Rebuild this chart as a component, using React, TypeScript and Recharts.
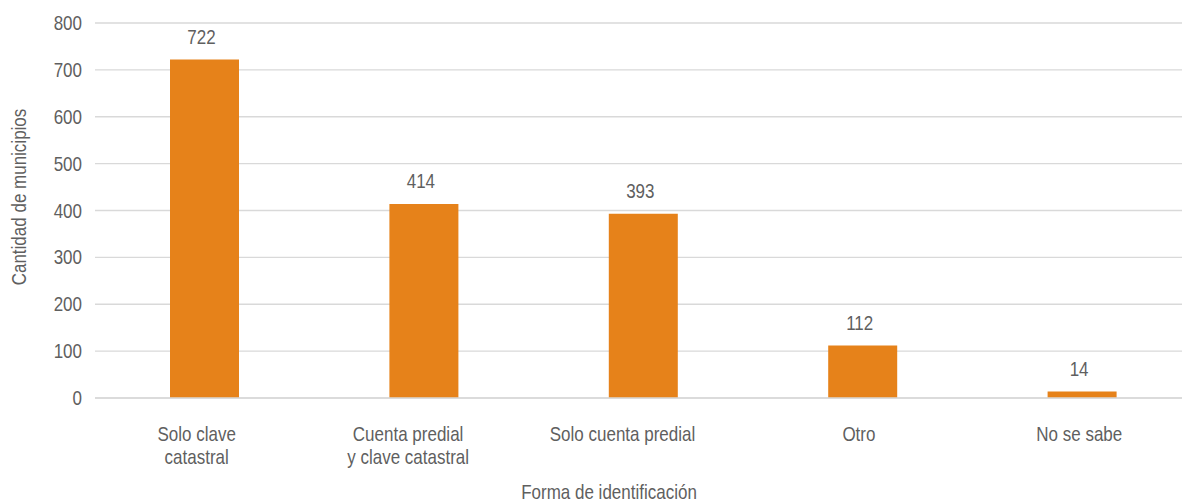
import React from 'react';
import { BarChart, Bar, XAxis, YAxis, CartesianGrid, LabelList, Label } from 'recharts';

// Forma de identificación de los predios
const categories = ['Solo clave\ncatastral', 'Cuenta predial\ny clave catastral', 'Solo cuenta predial', 'Otro', 'No se sabe'];
const municipios = [722, 414, 393, 112, 14];
const yTicks = [0, 100, 200, 300, 400, 500, 600, 700, 800];

const data = categories.map((name, i) => ({ name, value: municipios[i] }));

const textColor = '#5f5f5f';
const font = '"Liberation Sans", Arial, sans-serif';
const fontSize = 17;
const stretch = 1.2; // the original uses a narrow face, so stretch Arial-width glyphs vertically

// the original's category labels sit a little left of their bars
const labelNudge = [-8, -16, -21, -4, -3];

// text drawn at (x, y) baseline, taller than it is wide
const Tall = ({ x, y, anchor = 'middle', rotate = 0, children }: any) => (
  <g transform={`translate(${x} ${y}) rotate(${rotate}) scale(1 ${stretch})`}>
    <text x={0} y={0} textAnchor={anchor} fill={textColor} fontSize={fontSize} fontFamily={font}>
      {children}
    </text>
  </g>
);

const CategoryTick = (props: any) => {
  const { x, y, payload, index } = props;
  const lines = String(payload.value).split('\n');
  const cx = x + (labelNudge[index] ?? 0);
  return (
    <Tall x={cx} y={y + 35}>
      {lines.map((line, i) => (
        <tspan key={i} x={0} dy={i === 0 ? 0 : 23.5 / stretch}>{line}</tspan>
      ))}
    </Tall>
  );
};

const ValueTick = (props: any) => {
  const { x, y, payload } = props;
  return <Tall x={x} y={y + 7} anchor="end">{payload.value}</Tall>;
};

const BarValue = (props: any) => {
  const { x, y, width, value } = props;
  return <Tall x={x + width / 2 - 3} y={y - 15.5}>{value}</Tall>;
};

const App: React.FC = () => {
  return (
    <div style={{ position: 'fixed', left: 0, top: 0, width: 1182, height: 502, overflow: 'hidden', background: '#fff' }}>
      <BarChart width={1200} height={502} data={data} margin={{ top: 23, right: 8, left: 40, bottom: 44 }}>
        <CartesianGrid vertical={false} stroke="#d9d9d9" strokeWidth={1.3} />
        <XAxis
          dataKey="name"
          tick={<CategoryTick />}
          tickLine={false}
          axisLine={{ stroke: '#d9d9d9', strokeWidth: 1.3 }}
          height={60}
          interval={0}
        >
          <Label content={() => <Tall x={609} y={499}>Forma de identificación</Tall>} />
        </XAxis>
        <YAxis
          domain={[0, 800]}
          ticks={yTicks}
          tickLine={false}
          axisLine={false}
          tickSize={0}
          tickMargin={13}
          width={55}
          tick={<ValueTick />}
        >
          <Label content={() => <Tall x={26} y={197} rotate={-90}>Cantidad de municipios</Tall>} />
        </YAxis>
        <Bar dataKey="value" fill="#e6821a" barSize={69} isAnimationActive={false}>
          <LabelList dataKey="value" content={<BarValue />} />
        </Bar>
      </BarChart>
    </div>
  );
};

export default App;
